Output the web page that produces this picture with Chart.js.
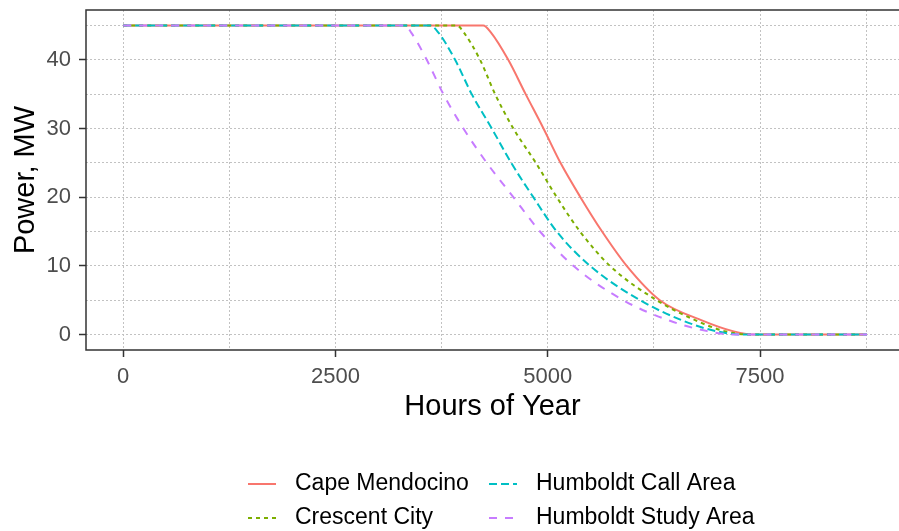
<!DOCTYPE html>
<html>
<head>
<meta charset="utf-8">
<script src="https://cdn.jsdelivr.net/npm/chart.js@4.4.1/dist/chart.umd.min.js"></script>
<style>
  html, body { margin: 0; padding: 0; background: #fff; overflow: hidden; }
  canvas { display: block; }
</style>
</head>
<body>
<canvas id="powerChart" width="899" height="531"></canvas>
<script>
// power level (MW) at each step of the duration curve, same for every site
const powerLevels = [45, 45, 44, 40, 35, 30, 25, 20, 15, 10, 5, 2, 0.5, 0, 0];

// hour of year at which each site drops to the matching power level
const capeHours      = [0, 4240, 4330, 4535, 4740, 4950, 5150, 5385, 5640, 5930, 6320, 6830, 7180, 7420, 8760];
const crescentHours  = [0, 3930, 4010, 4203, 4380, 4595, 4860, 5106, 5380, 5733, 6283, 6754, 7080, 7380, 8760];
const callHours      = [0, 3615, 3710, 3909, 4105, 4341, 4570, 4830, 5106, 5498, 6087, 6597, 6980, 7300, 8760];
const studyHours     = [0, 3320, 3390, 3575, 3771, 4007, 4282, 4595, 4909, 5302, 5890, 6440, 6880, 7200, 8760];

const siteNames = ["Cape Mendocino", "Crescent City", "Humboldt Call Area", "Humboldt Study Area"];

const xTicks = [0, 1250, 2500, 3750, 5000, 6250, 7500, 8750];
const yTicks = [0, 5, 10, 15, 20, 25, 30, 35, 40, 45];

const siteHours = [capeHours, crescentHours, callHours, studyHours];
const siteColors = ["#F8766D", "#7CAE00", "#00BFC4", "#C77CFF"];
const siteDashes = [[], [4, 4], [8, 4], [8, 8]];

const datasets = siteNames.map((name, i) => ({
  label: name,
  data: siteHours[i].map((h, j) => ({ x: h, y: powerLevels[j] })),
  borderColor: siteColors[i],
  borderDash: siteDashes[i],
  borderWidth: 2,
  pointRadius: 0,
  fill: false,
  cubicInterpolationMode: "monotone",
  order: siteNames.length - i,
}));

// ggplot-like legend: two columns, filled top to bottom
const legendSlots = [
  { site: 0, x: 248, y: 484 },
  { site: 1, x: 248, y: 518 },
  { site: 2, x: 489, y: 484 },
  { site: 3, x: 489, y: 518 },
];

const panelPlugin = {
  id: "panel",
  afterDatasetsDraw(chart) {
    const { ctx, chartArea: a } = chart;
    ctx.save();
    ctx.strokeStyle = "#333333";
    ctx.lineWidth = 1.5;
    ctx.beginPath();
    ctx.moveTo(a.right + 1, a.top);
    ctx.lineTo(a.left, a.top);
    ctx.lineTo(a.left, a.bottom);
    ctx.lineTo(a.right + 1, a.bottom);
    ctx.stroke();
    ctx.restore();
  },
  afterDraw(chart) {
    const ctx = chart.ctx;
    ctx.save();
    ctx.font = "23px 'Liberation Sans', Arial, sans-serif";
    ctx.textBaseline = "middle";
    ctx.fillStyle = "#000000";
    legendSlots.forEach((slot) => {
      const ds = chart.data.datasets[slot.site];
      ctx.strokeStyle = ds.borderColor;
      ctx.lineWidth = 2;
      ctx.setLineDash(ds.borderDash);
      ctx.beginPath();
      ctx.moveTo(slot.x, slot.y);
      ctx.lineTo(slot.x + 28, slot.y);
      ctx.stroke();
      ctx.setLineDash([]);
      ctx.fillText(ds.label, slot.x + 47, slot.y);
    });
    ctx.restore();
  },
};

const tickFont = { family: "'Liberation Sans', Arial, sans-serif", size: 22 };
const titleFont = { family: "'Liberation Sans', Arial, sans-serif", size: 29 };

new Chart(document.getElementById("powerChart"), {
  type: "line",
  data: { datasets },
  options: {
    responsive: false,
    animation: false,
    devicePixelRatio: 1,
    layout: { padding: { top: 10, right: 0, left: 0, bottom: 0 } },
    plugins: {
      legend: { display: false },
      tooltip: { enabled: false },
    },
    scales: {
      x: {
        type: "linear",
        min: -438,
        max: 9137,
        afterBuildTicks: (scale) => {
          scale.ticks = xTicks.map((v) => ({ value: v }));
        },
        afterFit: (scale) => {
          scale.height = 181;
          scale.paddingLeft = 0;
          scale.paddingRight = 0;
        },
        ticks: {
          autoSkip: false,
          maxRotation: 0,
          color: "#4d4d4d",
          font: tickFont,
          padding: 7,
          callback: (v) => (v % 2500 === 0 ? String(v) : ""),
        },
        grid: {
          color: "#c2c2c2",
          lineWidth: 1,
          tickLength: 7,
          tickWidth: 1.5,
          tickColor: (c) => (c.tick && c.tick.value % 2500 === 0 ? "#333333" : "rgba(0,0,0,0)"),
        },
        border: { display: false, dash: [2, 2] },
        title: {
          display: true,
          text: "Hours of Year",
          color: "#000000",
          font: titleFont,
          padding: { top: 0, bottom: 106.6 },
        },
      },
      y: {
        type: "linear",
        min: -2.25,
        max: 47.25,
        afterBuildTicks: (scale) => {
          scale.ticks = yTicks.map((v) => ({ value: v }));
        },
        afterFit: (scale) => {
          scale.width = 86;
          scale.paddingTop = 0;
          scale.paddingBottom = 0;
        },
        ticks: {
          autoSkip: false,
          color: "#4d4d4d",
          font: tickFont,
          padding: 8,
          callback: (v) => (v % 10 === 0 ? String(v) : ""),
        },
        grid: {
          color: "#c2c2c2",
          lineWidth: 1,
          tickLength: 7,
          tickWidth: 1.5,
          tickColor: (c) => (c.tick && c.tick.value % 10 === 0 ? "#333333" : "rgba(0,0,0,0)"),
        },
        border: { display: false, dash: [2, 2] },
        title: {
          display: true,
          text: "Power, MW",
          color: "#000000",
          font: titleFont,
          padding: { top: 8.6, bottom: 0 },
        },
      },
    },
  },
  plugins: [panelPlugin],
});
</script>
</body>
</html>
